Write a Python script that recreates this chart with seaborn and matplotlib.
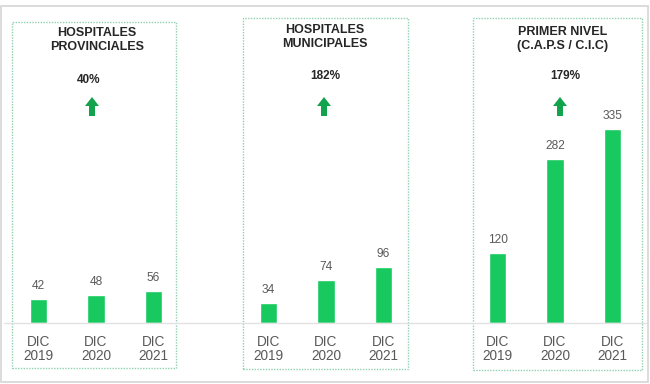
import matplotlib.pyplot as plt
import seaborn as sns
import pandas as pd
from matplotlib.patches import Rectangle, FancyArrow
from matplotlib.lines import Line2D

sns.set_theme(style="white")
plt.rcParams['font.family'] = ['Liberation Sans', 'DejaVu Sans']

# Data
periods = ["DIC\n2019", "DIC\n2020", "DIC\n2021"]
groups = ["HOSPITALES\nPROVINCIALES", "HOSPITALES\nMUNICIPALES", "PRIMER NIVEL\n(C.A.P.S / C.I.C)"]
provinciales = [42, 48, 56]
municipales = [34, 74, 96]
primer_nivel = [120, 282, 335]
growth = ["40%", "182%", "179%"]

BAR_GREEN = "#17c95e"
ARROW_GREEN = "#12a34c"
GRAY_TXT = "#595959"

W, H = 650, 384
fig = plt.figure(figsize=(W / 100, H / 100), dpi=100)

# layout in pixels (from top-left)
centers = [96, 326, 555]
title_xy = [(97, 40), (325, 37), (563, 39)]
pct_xy = [(89, 80), (325, 76), (565, 76)]
arrow_x = [92, 324, 560]
boxes = [(12, 22, 176, 368), (243, 18, 408, 369), (473, 18, 642, 370)]
base_y = 323
ax_w = 172.5
ax_h = 305

# outer frame
fig.patches.append(Rectangle((1 / W, 2 / H), 647 / W, 376 / H, transform=fig.transFigure,
                             fill=False, edgecolor="#d6d6d6", lw=1.2))
# baseline across all panels
fig.lines.append(Line2D([4 / W, 646 / W], [1 - base_y / H] * 2, transform=fig.transFigure,
                        color="#e2e2e2", lw=1))

series = [provinciales, municipales, primer_nivel]
for i, vals in enumerate(series):
    df = pd.DataFrame({"periodo": periods, "valor": vals})
    ax = fig.add_axes([(centers[i] - ax_w / 2) / W, (H - base_y) / H, ax_w / W, ax_h / H])
    sns.barplot(data=df, x="periodo", y="valor", ax=ax, color=BAR_GREEN,
                saturation=1, width=0.31)
    ax.set_xlim(-0.5, 2.5)
    ax.set_ylim(0, ax_h / 0.58)
    ax.patch.set_alpha(0)
    for s in ax.spines.values():
        s.set_visible(False)
    ax.set_yticks([])
    ax.set_xlabel("")
    ax.set_ylabel("")
    ax.tick_params(axis="x", length=0, pad=9, labelsize=9.8, labelcolor=GRAY_TXT)
    for lab in ax.get_xticklabels():
        lab.set_linespacing(0.95)
    ax.bar_label(ax.containers[0], padding=5, fontsize=8.6, color=GRAY_TXT)

    # dotted panel box
    x0, y0, x1, y1 = boxes[i]
    fig.patches.append(Rectangle((x0 / W, 1 - y1 / H), (x1 - x0) / W, (y1 - y0) / H,
                                 transform=fig.transFigure, fill=False,
                                 edgecolor="#8fd1b1", lw=1, linestyle=(0, (1, 1))))

    tx, ty = title_xy[i]
    fig.text(tx / W, 1 - ty / H, groups[i], ha="center", va="center", fontsize=9,
             fontweight="bold", color="#262626", linespacing=1.25)
    px_, py_ = pct_xy[i]
    fig.text(px_ / W, 1 - py_ / H, growth[i], ha="center", va="center", fontsize=8.5,
             fontweight="bold", color="#262626")

    # up arrow
    fig.patches.append(FancyArrow(arrow_x[i] / 100, (H - 116) / 100, 0, 19 / 100,
                                  width=6 / 100, head_width=14 / 100, head_length=9 / 100,
                                  length_includes_head=True, transform=fig.dpi_scale_trans,
                                  color=ARROW_GREEN, lw=0))

fig.savefig("out.png", dpi=100, facecolor="white")
